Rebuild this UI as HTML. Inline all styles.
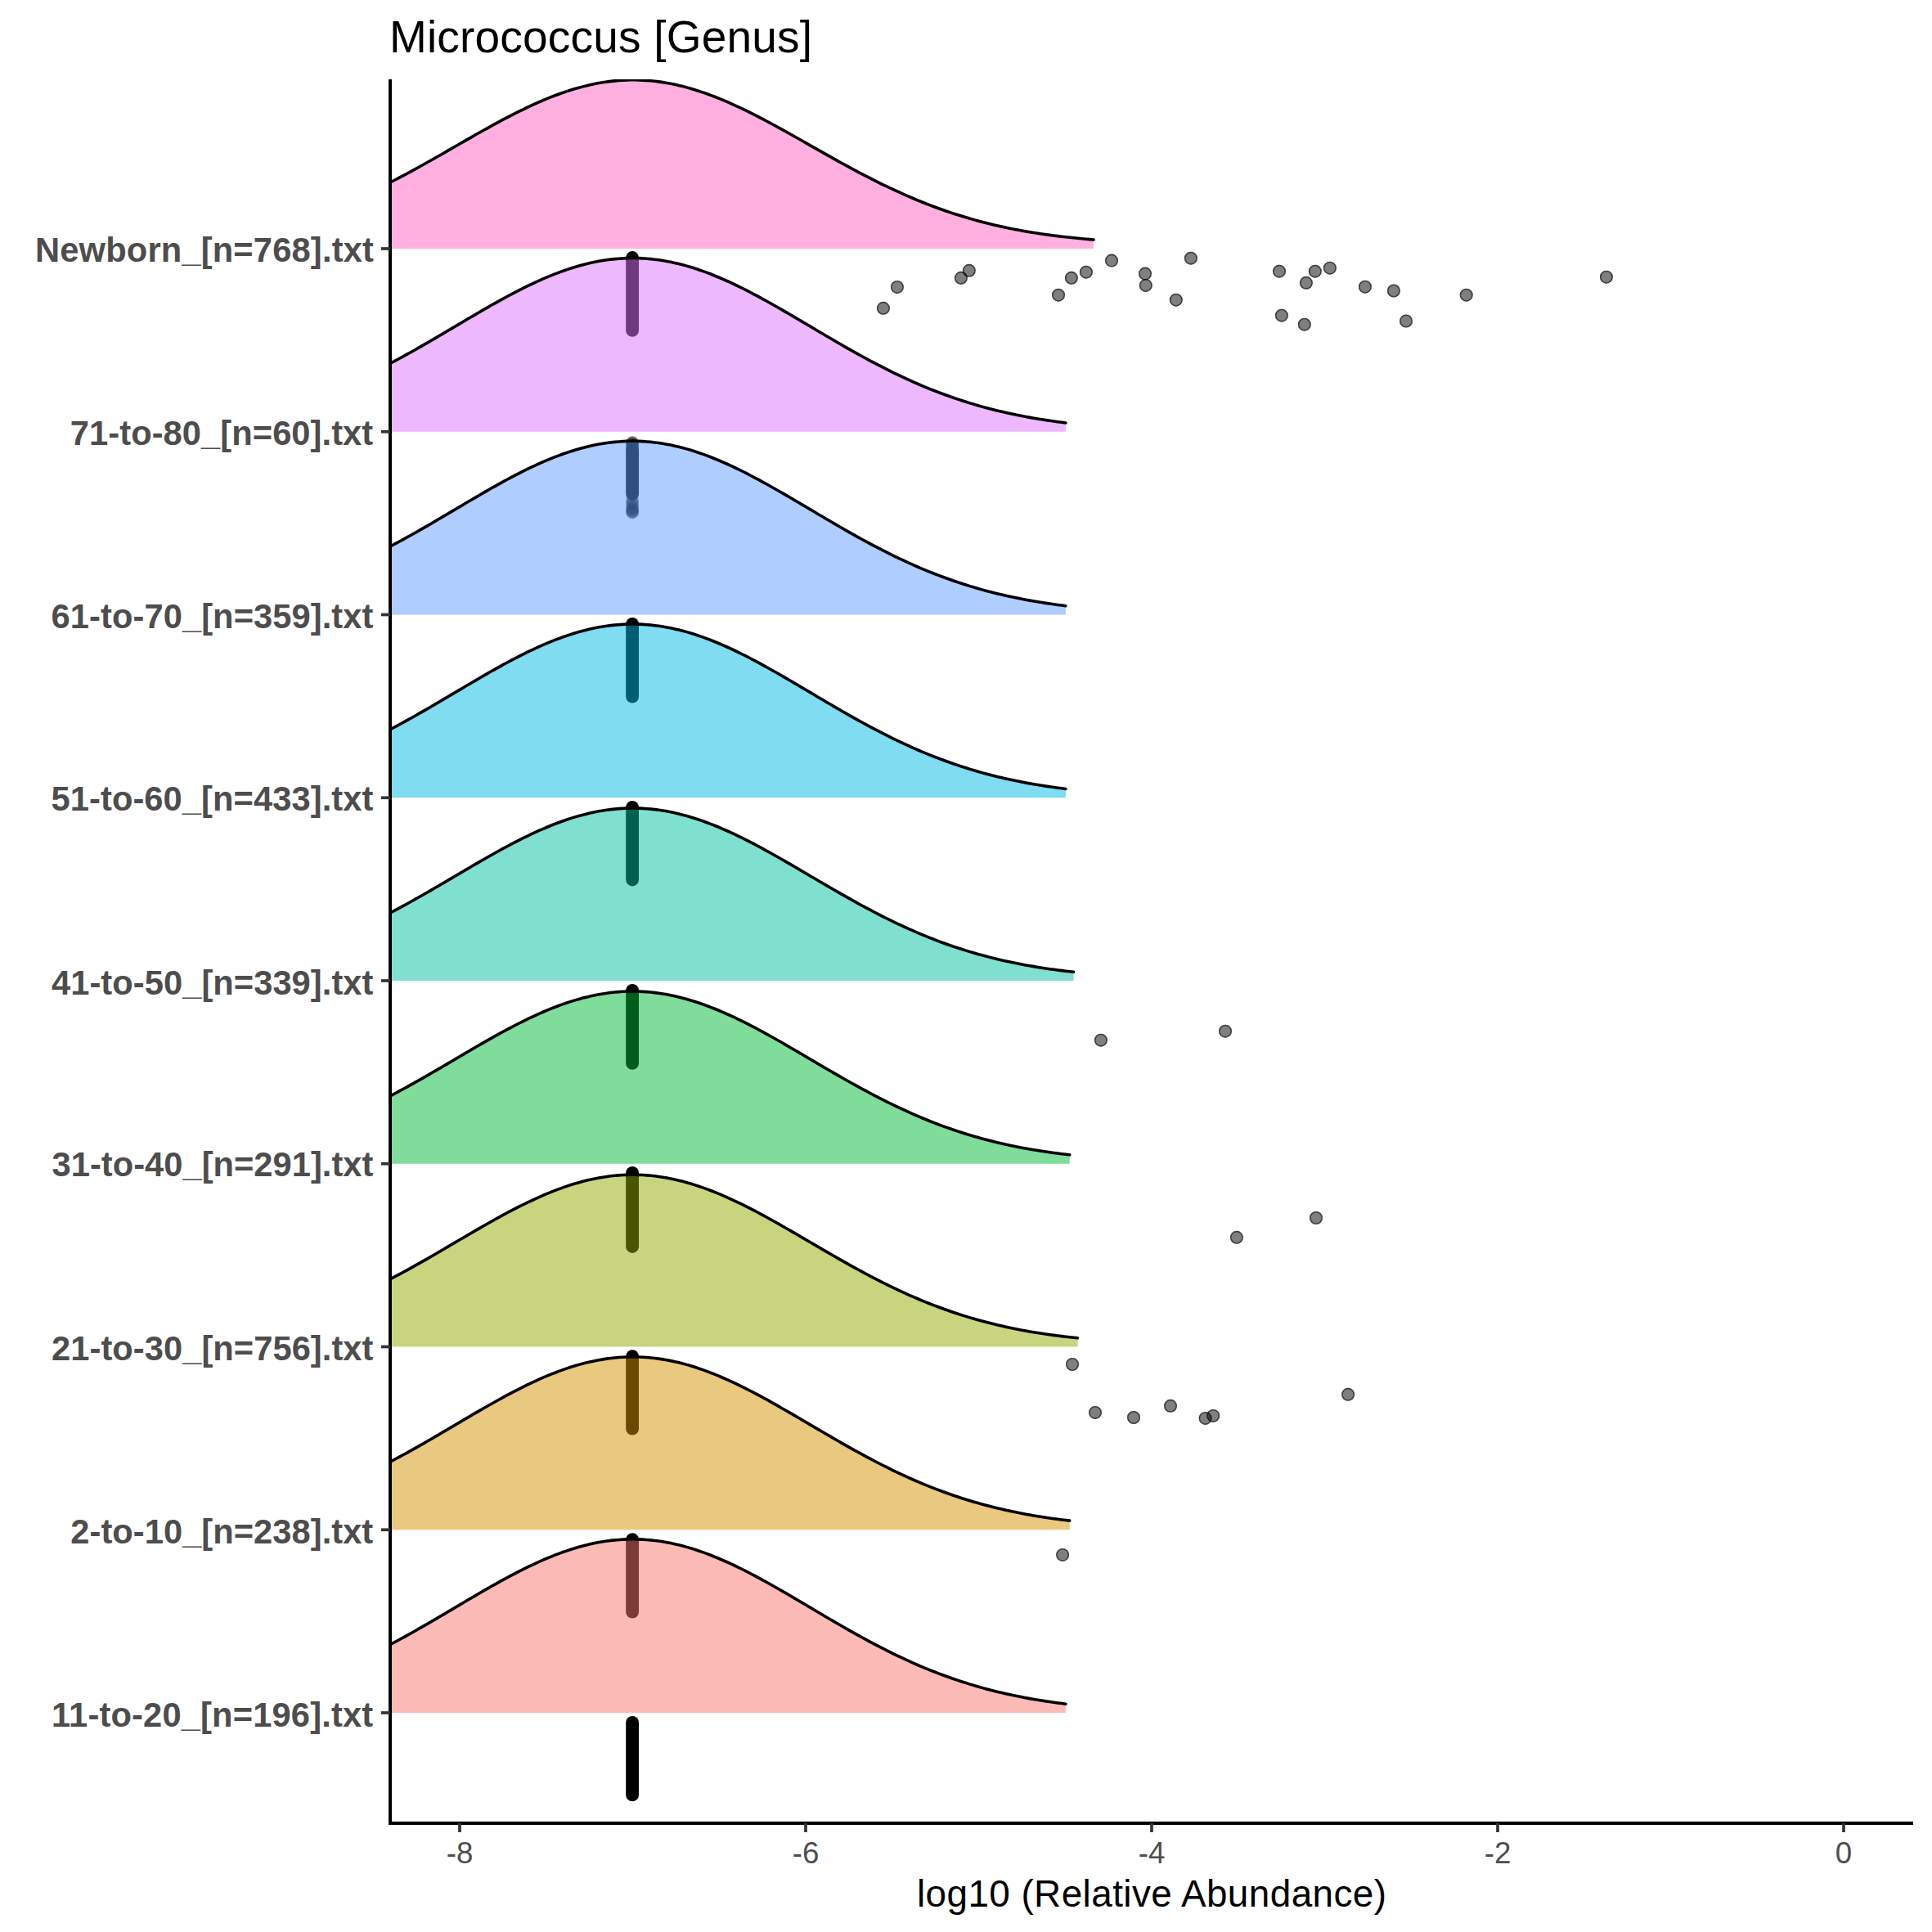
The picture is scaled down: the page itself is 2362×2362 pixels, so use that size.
<!DOCTYPE html>
<html><head><meta charset="utf-8"><title>Micrococcus [Genus]</title>
<style>html,body{margin:0;padding:0;background:#fff;}svg{display:block;}</style></head><body>
<svg width="2362" height="2362" viewBox="0 0 2362 2362">
<rect width="2362" height="2362" fill="#fff"/>
<defs><clipPath id="pc"><rect x="477" y="97" width="1862" height="2132"/></clipPath></defs>
<g clip-path="url(#pc)">
<polygon points="468.8,227.17 473.68,224.73 478.56,222.25 483.44,219.73 488.31,217.19 493.19,214.6 498.07,211.99 502.95,209.35 507.82,206.69 512.7,204 517.58,201.28 522.46,198.55 527.33,195.8 532.21,193.03 537.09,190.25 541.97,187.46 546.84,184.66 551.72,181.85 556.6,179.05 561.48,176.24 566.35,173.43 571.23,170.63 576.11,167.84 580.99,165.06 585.86,162.3 590.74,159.55 595.62,156.83 600.5,154.12 605.37,151.45 610.25,148.81 615.13,146.2 620.01,143.62 624.88,141.09 629.76,138.6 634.64,136.16 639.52,133.77 644.39,131.43 649.27,129.15 654.15,126.92 659.03,124.76 663.9,122.66 668.78,120.64 673.66,118.68 678.54,116.79 683.41,114.98 688.29,113.25 693.17,111.6 698.05,110.04 702.92,108.56 707.8,107.17 712.68,105.87 717.56,104.66 722.43,103.54 727.31,102.52 732.19,101.59 737.07,100.77 741.94,100.04 746.82,99.41 751.7,98.89 756.58,98.46 761.45,98.14 766.33,97.93 771.21,97.81 776.09,97.8 780.96,97.89 785.84,98.09 790.72,98.39 795.6,98.79 800.47,99.29 805.35,99.9 810.23,100.6 815.11,101.41 819.98,102.31 824.86,103.31 829.74,104.4 834.62,105.59 839.49,106.87 844.37,108.24 849.25,109.69 854.13,111.23 859,112.86 863.88,114.56 868.76,116.35 873.64,118.21 878.51,120.14 883.39,122.14 888.27,124.21 893.15,126.35 898.02,128.54 902.9,130.8 907.78,133.11 912.66,135.47 917.53,137.89 922.41,140.34 927.29,142.85 932.17,145.39 937.04,147.97 941.92,150.58 946.8,153.22 951.68,155.89 956.55,158.58 961.43,161.3 966.31,164.03 971.19,166.77 976.06,169.53 980.94,172.29 985.82,175.06 990.7,177.84 995.57,180.61 1000.45,183.38 1005.33,186.14 1010.2,188.9 1015.08,191.64 1019.96,194.37 1024.84,197.08 1029.71,199.78 1034.59,202.45 1039.47,205.1 1044.35,207.73 1049.22,210.33 1054.1,212.9 1058.98,215.44 1063.86,217.95 1068.73,220.42 1073.61,222.86 1078.49,225.26 1083.37,227.63 1088.24,229.95 1093.12,232.24 1098,234.48 1102.88,236.69 1107.75,238.85 1112.63,240.96 1117.51,243.03 1122.39,245.06 1127.26,247.04 1132.14,248.98 1137.02,250.87 1141.9,252.71 1146.77,254.51 1151.65,256.26 1156.53,257.97 1161.41,259.62 1166.28,261.24 1171.16,262.8 1176.04,264.32 1180.92,265.8 1185.79,267.23 1190.67,268.62 1195.55,269.96 1200.43,271.26 1205.3,272.52 1210.18,273.73 1215.06,274.9 1219.94,276.03 1224.81,277.13 1229.69,278.18 1234.57,279.19 1239.45,280.17 1244.32,281.1 1249.2,282.01 1254.08,282.87 1258.96,283.7 1263.83,284.5 1268.71,285.27 1273.59,286 1278.47,286.7 1283.34,287.38 1288.22,288.02 1293.1,288.63 1297.98,289.22 1302.85,289.78 1307.73,290.32 1312.61,290.83 1317.49,291.31 1322.36,291.78 1327.24,292.22 1332.12,292.64 1337,293.03 1337,304 468.8,304" fill="#FF61C3" fill-opacity="0.5"/>
<polyline points="468.8,227.17 473.68,224.73 478.56,222.25 483.44,219.73 488.31,217.19 493.19,214.6 498.07,211.99 502.95,209.35 507.82,206.69 512.7,204 517.58,201.28 522.46,198.55 527.33,195.8 532.21,193.03 537.09,190.25 541.97,187.46 546.84,184.66 551.72,181.85 556.6,179.05 561.48,176.24 566.35,173.43 571.23,170.63 576.11,167.84 580.99,165.06 585.86,162.3 590.74,159.55 595.62,156.83 600.5,154.12 605.37,151.45 610.25,148.81 615.13,146.2 620.01,143.62 624.88,141.09 629.76,138.6 634.64,136.16 639.52,133.77 644.39,131.43 649.27,129.15 654.15,126.92 659.03,124.76 663.9,122.66 668.78,120.64 673.66,118.68 678.54,116.79 683.41,114.98 688.29,113.25 693.17,111.6 698.05,110.04 702.92,108.56 707.8,107.17 712.68,105.87 717.56,104.66 722.43,103.54 727.31,102.52 732.19,101.59 737.07,100.77 741.94,100.04 746.82,99.41 751.7,98.89 756.58,98.46 761.45,98.14 766.33,97.93 771.21,97.81 776.09,97.8 780.96,97.89 785.84,98.09 790.72,98.39 795.6,98.79 800.47,99.29 805.35,99.9 810.23,100.6 815.11,101.41 819.98,102.31 824.86,103.31 829.74,104.4 834.62,105.59 839.49,106.87 844.37,108.24 849.25,109.69 854.13,111.23 859,112.86 863.88,114.56 868.76,116.35 873.64,118.21 878.51,120.14 883.39,122.14 888.27,124.21 893.15,126.35 898.02,128.54 902.9,130.8 907.78,133.11 912.66,135.47 917.53,137.89 922.41,140.34 927.29,142.85 932.17,145.39 937.04,147.97 941.92,150.58 946.8,153.22 951.68,155.89 956.55,158.58 961.43,161.3 966.31,164.03 971.19,166.77 976.06,169.53 980.94,172.29 985.82,175.06 990.7,177.84 995.57,180.61 1000.45,183.38 1005.33,186.14 1010.2,188.9 1015.08,191.64 1019.96,194.37 1024.84,197.08 1029.71,199.78 1034.59,202.45 1039.47,205.1 1044.35,207.73 1049.22,210.33 1054.1,212.9 1058.98,215.44 1063.86,217.95 1068.73,220.42 1073.61,222.86 1078.49,225.26 1083.37,227.63 1088.24,229.95 1093.12,232.24 1098,234.48 1102.88,236.69 1107.75,238.85 1112.63,240.96 1117.51,243.03 1122.39,245.06 1127.26,247.04 1132.14,248.98 1137.02,250.87 1141.9,252.71 1146.77,254.51 1151.65,256.26 1156.53,257.97 1161.41,259.62 1166.28,261.24 1171.16,262.8 1176.04,264.32 1180.92,265.8 1185.79,267.23 1190.67,268.62 1195.55,269.96 1200.43,271.26 1205.3,272.52 1210.18,273.73 1215.06,274.9 1219.94,276.03 1224.81,277.13 1229.69,278.18 1234.57,279.19 1239.45,280.17 1244.32,281.1 1249.2,282.01 1254.08,282.87 1258.96,283.7 1263.83,284.5 1268.71,285.27 1273.59,286 1278.47,286.7 1283.34,287.38 1288.22,288.02 1293.1,288.63 1297.98,289.22 1302.85,289.78 1307.73,290.32 1312.61,290.83 1317.49,291.31 1322.36,291.78 1327.24,292.22 1332.12,292.64 1337,293.03" fill="none" stroke="#000" stroke-width="3.6" stroke-linejoin="round" stroke-linecap="round"/>
<line x1="773.1" y1="315" x2="773.1" y2="403.9" stroke="#000" stroke-width="15.8" stroke-linecap="round"/>
<circle cx="1079.9" cy="376.8" r="8" fill="#000" fill-opacity="0.5"/><circle cx="1079.9" cy="376.8" r="7.2" fill="none" stroke="#000" stroke-opacity="0.5" stroke-width="1.6"/>
<circle cx="1096.9" cy="350.9" r="8" fill="#000" fill-opacity="0.5"/><circle cx="1096.9" cy="350.9" r="7.2" fill="none" stroke="#000" stroke-opacity="0.5" stroke-width="1.6"/>
<circle cx="1174.9" cy="339.8" r="8" fill="#000" fill-opacity="0.5"/><circle cx="1174.9" cy="339.8" r="7.2" fill="none" stroke="#000" stroke-opacity="0.5" stroke-width="1.6"/>
<circle cx="1184.8" cy="330.8" r="8" fill="#000" fill-opacity="0.5"/><circle cx="1184.8" cy="330.8" r="7.2" fill="none" stroke="#000" stroke-opacity="0.5" stroke-width="1.6"/>
<circle cx="1294" cy="360.7" r="8" fill="#000" fill-opacity="0.5"/><circle cx="1294" cy="360.7" r="7.2" fill="none" stroke="#000" stroke-opacity="0.5" stroke-width="1.6"/>
<circle cx="1309.9" cy="339.8" r="8" fill="#000" fill-opacity="0.5"/><circle cx="1309.9" cy="339.8" r="7.2" fill="none" stroke="#000" stroke-opacity="0.5" stroke-width="1.6"/>
<circle cx="1327.9" cy="332.7" r="8" fill="#000" fill-opacity="0.5"/><circle cx="1327.9" cy="332.7" r="7.2" fill="none" stroke="#000" stroke-opacity="0.5" stroke-width="1.6"/>
<circle cx="1359" cy="318.6" r="8" fill="#000" fill-opacity="0.5"/><circle cx="1359" cy="318.6" r="7.2" fill="none" stroke="#000" stroke-opacity="0.5" stroke-width="1.6"/>
<circle cx="1400" cy="334.6" r="8" fill="#000" fill-opacity="0.5"/><circle cx="1400" cy="334.6" r="7.2" fill="none" stroke="#000" stroke-opacity="0.5" stroke-width="1.6"/>
<circle cx="1400.8" cy="348.9" r="8" fill="#000" fill-opacity="0.5"/><circle cx="1400.8" cy="348.9" r="7.2" fill="none" stroke="#000" stroke-opacity="0.5" stroke-width="1.6"/>
<circle cx="1437.8" cy="366.7" r="8" fill="#000" fill-opacity="0.5"/><circle cx="1437.8" cy="366.7" r="7.2" fill="none" stroke="#000" stroke-opacity="0.5" stroke-width="1.6"/>
<circle cx="1455.9" cy="315.7" r="8" fill="#000" fill-opacity="0.5"/><circle cx="1455.9" cy="315.7" r="7.2" fill="none" stroke="#000" stroke-opacity="0.5" stroke-width="1.6"/>
<circle cx="1564" cy="331.7" r="8" fill="#000" fill-opacity="0.5"/><circle cx="1564" cy="331.7" r="7.2" fill="none" stroke="#000" stroke-opacity="0.5" stroke-width="1.6"/>
<circle cx="1566.9" cy="385.7" r="8" fill="#000" fill-opacity="0.5"/><circle cx="1566.9" cy="385.7" r="7.2" fill="none" stroke="#000" stroke-opacity="0.5" stroke-width="1.6"/>
<circle cx="1596.9" cy="345.8" r="8" fill="#000" fill-opacity="0.5"/><circle cx="1596.9" cy="345.8" r="7.2" fill="none" stroke="#000" stroke-opacity="0.5" stroke-width="1.6"/>
<circle cx="1594.8" cy="396.7" r="8" fill="#000" fill-opacity="0.5"/><circle cx="1594.8" cy="396.7" r="7.2" fill="none" stroke="#000" stroke-opacity="0.5" stroke-width="1.6"/>
<circle cx="1607.8" cy="331.7" r="8" fill="#000" fill-opacity="0.5"/><circle cx="1607.8" cy="331.7" r="7.2" fill="none" stroke="#000" stroke-opacity="0.5" stroke-width="1.6"/>
<circle cx="1625.9" cy="327.7" r="8" fill="#000" fill-opacity="0.5"/><circle cx="1625.9" cy="327.7" r="7.2" fill="none" stroke="#000" stroke-opacity="0.5" stroke-width="1.6"/>
<circle cx="1668.9" cy="350.7" r="8" fill="#000" fill-opacity="0.5"/><circle cx="1668.9" cy="350.7" r="7.2" fill="none" stroke="#000" stroke-opacity="0.5" stroke-width="1.6"/>
<circle cx="1703.9" cy="355.5" r="8" fill="#000" fill-opacity="0.5"/><circle cx="1703.9" cy="355.5" r="7.2" fill="none" stroke="#000" stroke-opacity="0.5" stroke-width="1.6"/>
<circle cx="1719" cy="392.5" r="8" fill="#000" fill-opacity="0.5"/><circle cx="1719" cy="392.5" r="7.2" fill="none" stroke="#000" stroke-opacity="0.5" stroke-width="1.6"/>
<circle cx="1792.7" cy="360.7" r="8" fill="#000" fill-opacity="0.5"/><circle cx="1792.7" cy="360.7" r="7.2" fill="none" stroke="#000" stroke-opacity="0.5" stroke-width="1.6"/>
<circle cx="1963.9" cy="338.7" r="8" fill="#000" fill-opacity="0.5"/><circle cx="1963.9" cy="338.7" r="7.2" fill="none" stroke="#000" stroke-opacity="0.5" stroke-width="1.6"/>
<polygon points="468.8,448.56 473.68,446.05 478.56,443.49 483.44,440.9 488.31,438.27 493.19,435.61 498.07,432.92 502.95,430.2 507.82,427.46 512.7,424.68 517.58,421.89 522.46,419.07 527.33,416.24 532.21,413.39 537.09,410.52 541.97,407.65 546.84,404.76 551.72,401.87 556.6,398.98 561.48,396.09 566.35,393.2 571.23,390.31 576.11,387.44 580.99,384.58 585.86,381.73 590.74,378.9 595.62,376.1 600.5,373.31 605.37,370.56 610.25,367.84 615.13,365.15 620.01,362.51 624.88,359.9 629.76,357.34 634.64,354.83 639.52,352.37 644.39,349.96 649.27,347.61 654.15,345.33 659.03,343.1 663.9,340.95 668.78,338.86 673.66,336.85 678.54,334.92 683.41,333.06 688.29,331.28 693.17,329.59 698.05,327.99 702.92,326.47 707.8,325.04 712.68,323.71 717.56,322.47 722.43,321.33 727.31,320.29 732.19,319.35 737.07,318.51 741.94,317.77 746.82,317.14 751.7,316.61 756.58,316.18 761.45,315.86 766.33,315.65 771.21,315.55 776.09,315.55 780.96,315.66 785.84,315.88 790.72,316.21 795.6,316.64 800.47,317.17 805.35,317.81 810.23,318.56 815.11,319.4 819.98,320.35 824.86,321.4 829.74,322.55 834.62,323.79 839.49,325.13 844.37,326.56 849.25,328.08 854.13,329.69 859,331.39 863.88,333.17 868.76,335.03 873.64,336.97 878.51,338.99 883.39,341.08 888.27,343.24 893.15,345.46 898.02,347.75 902.9,350.1 907.78,352.51 912.66,354.98 917.53,357.49 922.41,360.06 927.29,362.67 932.17,365.32 937.04,368 941.92,370.73 946.8,373.48 951.68,376.26 956.55,379.07 961.43,381.9 966.31,384.75 971.19,387.61 976.06,390.49 980.94,393.37 985.82,396.26 990.7,399.15 995.57,402.05 1000.45,404.94 1005.33,407.82 1010.2,410.69 1015.08,413.56 1019.96,416.41 1024.84,419.24 1029.71,422.06 1034.59,424.85 1039.47,427.62 1044.35,430.37 1049.22,433.09 1054.1,435.77 1058.98,438.43 1063.86,441.06 1068.73,443.65 1073.61,446.2 1078.49,448.72 1083.37,451.19 1088.24,453.63 1093.12,456.03 1098,458.38 1102.88,460.69 1107.75,462.95 1112.63,465.17 1117.51,467.35 1122.39,469.48 1127.26,471.56 1132.14,473.6 1137.02,475.58 1141.9,477.53 1146.77,479.42 1151.65,481.26 1156.53,483.06 1161.41,484.81 1166.28,486.51 1171.16,488.16 1176.04,489.77 1180.92,491.33 1185.79,492.85 1190.67,494.31 1195.55,495.74 1200.43,497.11 1205.3,498.45 1210.18,499.73 1215.06,500.98 1219.94,502.18 1224.81,503.34 1229.69,504.47 1234.57,505.55 1239.45,506.59 1244.32,507.59 1249.2,508.55 1254.08,509.48 1258.96,510.37 1263.83,511.23 1268.71,512.05 1273.59,512.84 1278.47,513.6 1283.34,514.32 1288.22,515.01 1293.1,515.68 1297.98,516.31 1302.85,516.92 1302.85,527.75 468.8,527.75" fill="#DB72FB" fill-opacity="0.5"/>
<polyline points="468.8,448.56 473.68,446.05 478.56,443.49 483.44,440.9 488.31,438.27 493.19,435.61 498.07,432.92 502.95,430.2 507.82,427.46 512.7,424.68 517.58,421.89 522.46,419.07 527.33,416.24 532.21,413.39 537.09,410.52 541.97,407.65 546.84,404.76 551.72,401.87 556.6,398.98 561.48,396.09 566.35,393.2 571.23,390.31 576.11,387.44 580.99,384.58 585.86,381.73 590.74,378.9 595.62,376.1 600.5,373.31 605.37,370.56 610.25,367.84 615.13,365.15 620.01,362.51 624.88,359.9 629.76,357.34 634.64,354.83 639.52,352.37 644.39,349.96 649.27,347.61 654.15,345.33 659.03,343.1 663.9,340.95 668.78,338.86 673.66,336.85 678.54,334.92 683.41,333.06 688.29,331.28 693.17,329.59 698.05,327.99 702.92,326.47 707.8,325.04 712.68,323.71 717.56,322.47 722.43,321.33 727.31,320.29 732.19,319.35 737.07,318.51 741.94,317.77 746.82,317.14 751.7,316.61 756.58,316.18 761.45,315.86 766.33,315.65 771.21,315.55 776.09,315.55 780.96,315.66 785.84,315.88 790.72,316.21 795.6,316.64 800.47,317.17 805.35,317.81 810.23,318.56 815.11,319.4 819.98,320.35 824.86,321.4 829.74,322.55 834.62,323.79 839.49,325.13 844.37,326.56 849.25,328.08 854.13,329.69 859,331.39 863.88,333.17 868.76,335.03 873.64,336.97 878.51,338.99 883.39,341.08 888.27,343.24 893.15,345.46 898.02,347.75 902.9,350.1 907.78,352.51 912.66,354.98 917.53,357.49 922.41,360.06 927.29,362.67 932.17,365.32 937.04,368 941.92,370.73 946.8,373.48 951.68,376.26 956.55,379.07 961.43,381.9 966.31,384.75 971.19,387.61 976.06,390.49 980.94,393.37 985.82,396.26 990.7,399.15 995.57,402.05 1000.45,404.94 1005.33,407.82 1010.2,410.69 1015.08,413.56 1019.96,416.41 1024.84,419.24 1029.71,422.06 1034.59,424.85 1039.47,427.62 1044.35,430.37 1049.22,433.09 1054.1,435.77 1058.98,438.43 1063.86,441.06 1068.73,443.65 1073.61,446.2 1078.49,448.72 1083.37,451.19 1088.24,453.63 1093.12,456.03 1098,458.38 1102.88,460.69 1107.75,462.95 1112.63,465.17 1117.51,467.35 1122.39,469.48 1127.26,471.56 1132.14,473.6 1137.02,475.58 1141.9,477.53 1146.77,479.42 1151.65,481.26 1156.53,483.06 1161.41,484.81 1166.28,486.51 1171.16,488.16 1176.04,489.77 1180.92,491.33 1185.79,492.85 1190.67,494.31 1195.55,495.74 1200.43,497.11 1205.3,498.45 1210.18,499.73 1215.06,500.98 1219.94,502.18 1224.81,503.34 1229.69,504.47 1234.57,505.55 1239.45,506.59 1244.32,507.59 1249.2,508.55 1254.08,509.48 1258.96,510.37 1263.83,511.23 1268.71,512.05 1273.59,512.84 1278.47,513.6 1283.34,514.32 1288.22,515.01 1293.1,515.68 1297.98,516.31 1302.85,516.92" fill="none" stroke="#000" stroke-width="3.6" stroke-linejoin="round" stroke-linecap="round"/>
<line x1="773.1" y1="551" x2="773.1" y2="604" stroke="#000" stroke-width="15.8" stroke-linecap="round"/>
<circle cx="773.1" cy="541.1" r="7.9" fill="#000" fill-opacity="0.5"/>
<circle cx="773.1" cy="543" r="7.9" fill="#000" fill-opacity="0.5"/>
<circle cx="773.1" cy="545" r="7.9" fill="#000" fill-opacity="0.5"/>
<circle cx="773.1" cy="547" r="7.9" fill="#000" fill-opacity="0.5"/>
<circle cx="773.1" cy="549" r="7.9" fill="#000" fill-opacity="0.5"/>
<circle cx="773.1" cy="612" r="7.9" fill="#000" fill-opacity="0.5"/>
<circle cx="773.1" cy="616" r="7.9" fill="#000" fill-opacity="0.5"/>
<circle cx="773.1" cy="620" r="7.9" fill="#000" fill-opacity="0.5"/>
<circle cx="773.1" cy="623" r="7.9" fill="#000" fill-opacity="0.5"/>
<circle cx="773.1" cy="625" r="7.9" fill="#000" fill-opacity="0.5"/>
<circle cx="773.1" cy="626.5" r="7.9" fill="#000" fill-opacity="0.5"/>
<polygon points="468.8,672.31 473.68,669.8 478.56,667.24 483.44,664.65 488.31,662.02 493.19,659.36 498.07,656.67 502.95,653.95 507.82,651.21 512.7,648.43 517.58,645.64 522.46,642.82 527.33,639.99 532.21,637.14 537.09,634.27 541.97,631.4 546.84,628.51 551.72,625.62 556.6,622.73 561.48,619.84 566.35,616.95 571.23,614.06 576.11,611.19 580.99,608.33 585.86,605.48 590.74,602.65 595.62,599.85 600.5,597.06 605.37,594.31 610.25,591.59 615.13,588.9 620.01,586.26 624.88,583.65 629.76,581.09 634.64,578.58 639.52,576.12 644.39,573.71 649.27,571.36 654.15,569.08 659.03,566.85 663.9,564.7 668.78,562.61 673.66,560.6 678.54,558.67 683.41,556.81 688.29,555.03 693.17,553.34 698.05,551.74 702.92,550.22 707.8,548.79 712.68,547.46 717.56,546.22 722.43,545.08 727.31,544.04 732.19,543.1 737.07,542.26 741.94,541.52 746.82,540.89 751.7,540.36 756.58,539.93 761.45,539.61 766.33,539.4 771.21,539.3 776.09,539.3 780.96,539.41 785.84,539.63 790.72,539.96 795.6,540.39 800.47,540.92 805.35,541.56 810.23,542.31 815.11,543.15 819.98,544.1 824.86,545.15 829.74,546.3 834.62,547.54 839.49,548.88 844.37,550.31 849.25,551.83 854.13,553.44 859,555.14 863.88,556.92 868.76,558.78 873.64,560.72 878.51,562.74 883.39,564.83 888.27,566.99 893.15,569.21 898.02,571.5 902.9,573.85 907.78,576.26 912.66,578.73 917.53,581.24 922.41,583.81 927.29,586.42 932.17,589.07 937.04,591.75 941.92,594.48 946.8,597.23 951.68,600.01 956.55,602.82 961.43,605.65 966.31,608.5 971.19,611.36 976.06,614.24 980.94,617.12 985.82,620.01 990.7,622.9 995.57,625.8 1000.45,628.69 1005.33,631.57 1010.2,634.44 1015.08,637.31 1019.96,640.16 1024.84,642.99 1029.71,645.81 1034.59,648.6 1039.47,651.37 1044.35,654.12 1049.22,656.84 1054.1,659.52 1058.98,662.18 1063.86,664.81 1068.73,667.4 1073.61,669.95 1078.49,672.47 1083.37,674.94 1088.24,677.38 1093.12,679.78 1098,682.13 1102.88,684.44 1107.75,686.7 1112.63,688.92 1117.51,691.1 1122.39,693.23 1127.26,695.31 1132.14,697.35 1137.02,699.33 1141.9,701.28 1146.77,703.17 1151.65,705.01 1156.53,706.81 1161.41,708.56 1166.28,710.26 1171.16,711.91 1176.04,713.52 1180.92,715.08 1185.79,716.6 1190.67,718.06 1195.55,719.49 1200.43,720.86 1205.3,722.2 1210.18,723.48 1215.06,724.73 1219.94,725.93 1224.81,727.09 1229.69,728.22 1234.57,729.3 1239.45,730.34 1244.32,731.34 1249.2,732.3 1254.08,733.23 1258.96,734.12 1263.83,734.98 1268.71,735.8 1273.59,736.59 1278.47,737.35 1283.34,738.07 1288.22,738.76 1293.1,739.43 1297.98,740.06 1302.85,740.67 1302.85,751.5 468.8,751.5" fill="#619CFF" fill-opacity="0.5"/>
<polyline points="468.8,672.31 473.68,669.8 478.56,667.24 483.44,664.65 488.31,662.02 493.19,659.36 498.07,656.67 502.95,653.95 507.82,651.21 512.7,648.43 517.58,645.64 522.46,642.82 527.33,639.99 532.21,637.14 537.09,634.27 541.97,631.4 546.84,628.51 551.72,625.62 556.6,622.73 561.48,619.84 566.35,616.95 571.23,614.06 576.11,611.19 580.99,608.33 585.86,605.48 590.74,602.65 595.62,599.85 600.5,597.06 605.37,594.31 610.25,591.59 615.13,588.9 620.01,586.26 624.88,583.65 629.76,581.09 634.64,578.58 639.52,576.12 644.39,573.71 649.27,571.36 654.15,569.08 659.03,566.85 663.9,564.7 668.78,562.61 673.66,560.6 678.54,558.67 683.41,556.81 688.29,555.03 693.17,553.34 698.05,551.74 702.92,550.22 707.8,548.79 712.68,547.46 717.56,546.22 722.43,545.08 727.31,544.04 732.19,543.1 737.07,542.26 741.94,541.52 746.82,540.89 751.7,540.36 756.58,539.93 761.45,539.61 766.33,539.4 771.21,539.3 776.09,539.3 780.96,539.41 785.84,539.63 790.72,539.96 795.6,540.39 800.47,540.92 805.35,541.56 810.23,542.31 815.11,543.15 819.98,544.1 824.86,545.15 829.74,546.3 834.62,547.54 839.49,548.88 844.37,550.31 849.25,551.83 854.13,553.44 859,555.14 863.88,556.92 868.76,558.78 873.64,560.72 878.51,562.74 883.39,564.83 888.27,566.99 893.15,569.21 898.02,571.5 902.9,573.85 907.78,576.26 912.66,578.73 917.53,581.24 922.41,583.81 927.29,586.42 932.17,589.07 937.04,591.75 941.92,594.48 946.8,597.23 951.68,600.01 956.55,602.82 961.43,605.65 966.31,608.5 971.19,611.36 976.06,614.24 980.94,617.12 985.82,620.01 990.7,622.9 995.57,625.8 1000.45,628.69 1005.33,631.57 1010.2,634.44 1015.08,637.31 1019.96,640.16 1024.84,642.99 1029.71,645.81 1034.59,648.6 1039.47,651.37 1044.35,654.12 1049.22,656.84 1054.1,659.52 1058.98,662.18 1063.86,664.81 1068.73,667.4 1073.61,669.95 1078.49,672.47 1083.37,674.94 1088.24,677.38 1093.12,679.78 1098,682.13 1102.88,684.44 1107.75,686.7 1112.63,688.92 1117.51,691.1 1122.39,693.23 1127.26,695.31 1132.14,697.35 1137.02,699.33 1141.9,701.28 1146.77,703.17 1151.65,705.01 1156.53,706.81 1161.41,708.56 1166.28,710.26 1171.16,711.91 1176.04,713.52 1180.92,715.08 1185.79,716.6 1190.67,718.06 1195.55,719.49 1200.43,720.86 1205.3,722.2 1210.18,723.48 1215.06,724.73 1219.94,725.93 1224.81,727.09 1229.69,728.22 1234.57,729.3 1239.45,730.34 1244.32,731.34 1249.2,732.3 1254.08,733.23 1258.96,734.12 1263.83,734.98 1268.71,735.8 1273.59,736.59 1278.47,737.35 1283.34,738.07 1288.22,738.76 1293.1,739.43 1297.98,740.06 1302.85,740.67" fill="none" stroke="#000" stroke-width="3.6" stroke-linejoin="round" stroke-linecap="round"/>
<line x1="773.1" y1="762.8" x2="773.1" y2="851.7" stroke="#000" stroke-width="15.8" stroke-linecap="round"/>
<polygon points="468.8,896.06 473.68,893.55 478.56,890.99 483.44,888.4 488.31,885.77 493.19,883.11 498.07,880.42 502.95,877.7 507.82,874.96 512.7,872.18 517.58,869.39 522.46,866.57 527.33,863.74 532.21,860.89 537.09,858.02 541.97,855.15 546.84,852.26 551.72,849.37 556.6,846.48 561.48,843.59 566.35,840.7 571.23,837.81 576.11,834.94 580.99,832.08 585.86,829.23 590.74,826.4 595.62,823.6 600.5,820.81 605.37,818.06 610.25,815.34 615.13,812.65 620.01,810.01 624.88,807.4 629.76,804.84 634.64,802.33 639.52,799.87 644.39,797.46 649.27,795.11 654.15,792.83 659.03,790.6 663.9,788.45 668.78,786.36 673.66,784.35 678.54,782.42 683.41,780.56 688.29,778.78 693.17,777.09 698.05,775.49 702.92,773.97 707.8,772.54 712.68,771.21 717.56,769.97 722.43,768.83 727.31,767.79 732.19,766.85 737.07,766.01 741.94,765.27 746.82,764.64 751.7,764.11 756.58,763.68 761.45,763.36 766.33,763.15 771.21,763.05 776.09,763.05 780.96,763.16 785.84,763.38 790.72,763.71 795.6,764.14 800.47,764.67 805.35,765.31 810.23,766.06 815.11,766.9 819.98,767.85 824.86,768.9 829.74,770.05 834.62,771.29 839.49,772.63 844.37,774.06 849.25,775.58 854.13,777.19 859,778.89 863.88,780.67 868.76,782.53 873.64,784.47 878.51,786.49 883.39,788.58 888.27,790.74 893.15,792.96 898.02,795.25 902.9,797.6 907.78,800.01 912.66,802.48 917.53,804.99 922.41,807.56 927.29,810.17 932.17,812.82 937.04,815.5 941.92,818.23 946.8,820.98 951.68,823.76 956.55,826.57 961.43,829.4 966.31,832.25 971.19,835.11 976.06,837.99 980.94,840.87 985.82,843.76 990.7,846.65 995.57,849.55 1000.45,852.44 1005.33,855.32 1010.2,858.19 1015.08,861.06 1019.96,863.91 1024.84,866.74 1029.71,869.56 1034.59,872.35 1039.47,875.12 1044.35,877.87 1049.22,880.59 1054.1,883.27 1058.98,885.93 1063.86,888.56 1068.73,891.15 1073.61,893.7 1078.49,896.22 1083.37,898.69 1088.24,901.13 1093.12,903.53 1098,905.88 1102.88,908.19 1107.75,910.45 1112.63,912.67 1117.51,914.85 1122.39,916.98 1127.26,919.06 1132.14,921.1 1137.02,923.08 1141.9,925.03 1146.77,926.92 1151.65,928.76 1156.53,930.56 1161.41,932.31 1166.28,934.01 1171.16,935.66 1176.04,937.27 1180.92,938.83 1185.79,940.35 1190.67,941.81 1195.55,943.24 1200.43,944.61 1205.3,945.95 1210.18,947.23 1215.06,948.48 1219.94,949.68 1224.81,950.84 1229.69,951.97 1234.57,953.05 1239.45,954.09 1244.32,955.09 1249.2,956.05 1254.08,956.98 1258.96,957.87 1263.83,958.73 1268.71,959.55 1273.59,960.34 1278.47,961.1 1283.34,961.82 1288.22,962.51 1293.1,963.18 1297.98,963.81 1302.85,964.42 1302.85,975.25 468.8,975.25" fill="#00B9E3" fill-opacity="0.5"/>
<polyline points="468.8,896.06 473.68,893.55 478.56,890.99 483.44,888.4 488.31,885.77 493.19,883.11 498.07,880.42 502.95,877.7 507.82,874.96 512.7,872.18 517.58,869.39 522.46,866.57 527.33,863.74 532.21,860.89 537.09,858.02 541.97,855.15 546.84,852.26 551.72,849.37 556.6,846.48 561.48,843.59 566.35,840.7 571.23,837.81 576.11,834.94 580.99,832.08 585.86,829.23 590.74,826.4 595.62,823.6 600.5,820.81 605.37,818.06 610.25,815.34 615.13,812.65 620.01,810.01 624.88,807.4 629.76,804.84 634.64,802.33 639.52,799.87 644.39,797.46 649.27,795.11 654.15,792.83 659.03,790.6 663.9,788.45 668.78,786.36 673.66,784.35 678.54,782.42 683.41,780.56 688.29,778.78 693.17,777.09 698.05,775.49 702.92,773.97 707.8,772.54 712.68,771.21 717.56,769.97 722.43,768.83 727.31,767.79 732.19,766.85 737.07,766.01 741.94,765.27 746.82,764.64 751.7,764.11 756.58,763.68 761.45,763.36 766.33,763.15 771.21,763.05 776.09,763.05 780.96,763.16 785.84,763.38 790.72,763.71 795.6,764.14 800.47,764.67 805.35,765.31 810.23,766.06 815.11,766.9 819.98,767.85 824.86,768.9 829.74,770.05 834.62,771.29 839.49,772.63 844.37,774.06 849.25,775.58 854.13,777.19 859,778.89 863.88,780.67 868.76,782.53 873.64,784.47 878.51,786.49 883.39,788.58 888.27,790.74 893.15,792.96 898.02,795.25 902.9,797.6 907.78,800.01 912.66,802.48 917.53,804.99 922.41,807.56 927.29,810.17 932.17,812.82 937.04,815.5 941.92,818.23 946.8,820.98 951.68,823.76 956.55,826.57 961.43,829.4 966.31,832.25 971.19,835.11 976.06,837.99 980.94,840.87 985.82,843.76 990.7,846.65 995.57,849.55 1000.45,852.44 1005.33,855.32 1010.2,858.19 1015.08,861.06 1019.96,863.91 1024.84,866.74 1029.71,869.56 1034.59,872.35 1039.47,875.12 1044.35,877.87 1049.22,880.59 1054.1,883.27 1058.98,885.93 1063.86,888.56 1068.73,891.15 1073.61,893.7 1078.49,896.22 1083.37,898.69 1088.24,901.13 1093.12,903.53 1098,905.88 1102.88,908.19 1107.75,910.45 1112.63,912.67 1117.51,914.85 1122.39,916.98 1127.26,919.06 1132.14,921.1 1137.02,923.08 1141.9,925.03 1146.77,926.92 1151.65,928.76 1156.53,930.56 1161.41,932.31 1166.28,934.01 1171.16,935.66 1176.04,937.27 1180.92,938.83 1185.79,940.35 1190.67,941.81 1195.55,943.24 1200.43,944.61 1205.3,945.95 1210.18,947.23 1215.06,948.48 1219.94,949.68 1224.81,950.84 1229.69,951.97 1234.57,953.05 1239.45,954.09 1244.32,955.09 1249.2,956.05 1254.08,956.98 1258.96,957.87 1263.83,958.73 1268.71,959.55 1273.59,960.34 1278.47,961.1 1283.34,961.82 1288.22,962.51 1293.1,963.18 1297.98,963.81 1302.85,964.42" fill="none" stroke="#000" stroke-width="3.6" stroke-linejoin="round" stroke-linecap="round"/>
<line x1="773.1" y1="986.8" x2="773.1" y2="1075.5" stroke="#000" stroke-width="15.8" stroke-linecap="round"/>
<polygon points="468.8,1120.28 473.68,1117.78 478.56,1115.24 483.44,1112.66 488.31,1110.05 493.19,1107.41 498.07,1104.73 502.95,1102.03 507.82,1099.3 512.7,1096.54 517.58,1093.76 522.46,1090.96 527.33,1088.14 532.21,1085.31 537.09,1082.46 541.97,1079.6 546.84,1076.74 551.72,1073.86 556.6,1070.99 561.48,1068.11 566.35,1065.24 571.23,1062.37 576.11,1059.52 580.99,1056.67 585.86,1053.84 590.74,1051.03 595.62,1048.24 600.5,1045.47 605.37,1042.74 610.25,1040.03 615.13,1037.36 620.01,1034.73 624.88,1032.14 629.76,1029.59 634.64,1027.1 639.52,1024.65 644.39,1022.26 649.27,1019.92 654.15,1017.65 659.03,1015.44 663.9,1013.3 668.78,1011.22 673.66,1009.22 678.54,1007.3 683.41,1005.45 688.29,1003.69 693.17,1002 698.05,1000.41 702.92,998.9 707.8,997.48 712.68,996.16 717.56,994.93 722.43,993.79 727.31,992.75 732.19,991.82 737.07,990.98 741.94,990.24 746.82,989.61 751.7,989.09 756.58,988.66 761.45,988.35 766.33,988.14 771.21,988.03 776.09,988.03 780.96,988.14 785.84,988.36 790.72,988.68 795.6,989.1 800.47,989.63 805.35,990.27 810.23,991.01 815.11,991.85 819.98,992.79 824.86,993.83 829.74,994.96 834.62,996.2 839.49,997.53 844.37,998.95 849.25,1000.46 854.13,1002.05 859,1003.74 863.88,1005.51 868.76,1007.35 873.64,1009.28 878.51,1011.28 883.39,1013.35 888.27,1015.49 893.15,1017.7 898.02,1019.98 902.9,1022.31 907.78,1024.7 912.66,1027.15 917.53,1029.64 922.41,1032.19 927.29,1034.77 932.17,1037.4 937.04,1040.07 941.92,1042.77 946.8,1045.5 951.68,1048.26 956.55,1051.05 961.43,1053.85 966.31,1056.68 971.19,1059.51 976.06,1062.37 980.94,1065.22 985.82,1068.09 990.7,1070.96 995.57,1073.82 1000.45,1076.69 1005.33,1079.55 1010.2,1082.4 1015.08,1085.23 1019.96,1088.06 1024.84,1090.86 1029.71,1093.65 1034.59,1096.42 1039.47,1099.16 1044.35,1101.88 1049.22,1104.57 1054.1,1107.24 1058.98,1109.87 1063.86,1112.46 1068.73,1115.03 1073.61,1117.55 1078.49,1120.04 1083.37,1122.49 1088.24,1124.9 1093.12,1127.27 1098,1129.6 1102.88,1131.88 1107.75,1134.12 1112.63,1136.31 1117.51,1138.46 1122.39,1140.56 1127.26,1142.62 1132.14,1144.63 1137.02,1146.59 1141.9,1148.51 1146.77,1150.37 1151.65,1152.19 1156.53,1153.96 1161.41,1155.69 1166.28,1157.36 1171.16,1158.99 1176.04,1160.58 1180.92,1162.11 1185.79,1163.6 1190.67,1165.05 1195.55,1166.44 1200.43,1167.8 1205.3,1169.11 1210.18,1170.37 1215.06,1171.6 1219.94,1172.78 1224.81,1173.92 1229.69,1175.02 1234.57,1176.08 1239.45,1177.1 1244.32,1178.08 1249.2,1179.03 1254.08,1179.93 1258.96,1180.81 1263.83,1181.64 1268.71,1182.45 1273.59,1183.22 1278.47,1183.96 1283.34,1184.67 1288.22,1185.34 1293.1,1185.99 1297.98,1186.61 1302.85,1187.2 1307.73,1187.77 1312.61,1188.31 1312.61,1199 468.8,1199" fill="#00C19F" fill-opacity="0.5"/>
<polyline points="468.8,1120.28 473.68,1117.78 478.56,1115.24 483.44,1112.66 488.31,1110.05 493.19,1107.41 498.07,1104.73 502.95,1102.03 507.82,1099.3 512.7,1096.54 517.58,1093.76 522.46,1090.96 527.33,1088.14 532.21,1085.31 537.09,1082.46 541.97,1079.6 546.84,1076.74 551.72,1073.86 556.6,1070.99 561.48,1068.11 566.35,1065.24 571.23,1062.37 576.11,1059.52 580.99,1056.67 585.86,1053.84 590.74,1051.03 595.62,1048.24 600.5,1045.47 605.37,1042.74 610.25,1040.03 615.13,1037.36 620.01,1034.73 624.88,1032.14 629.76,1029.59 634.64,1027.1 639.52,1024.65 644.39,1022.26 649.27,1019.92 654.15,1017.65 659.03,1015.44 663.9,1013.3 668.78,1011.22 673.66,1009.22 678.54,1007.3 683.41,1005.45 688.29,1003.69 693.17,1002 698.05,1000.41 702.92,998.9 707.8,997.48 712.68,996.16 717.56,994.93 722.43,993.79 727.31,992.75 732.19,991.82 737.07,990.98 741.94,990.24 746.82,989.61 751.7,989.09 756.58,988.66 761.45,988.35 766.33,988.14 771.21,988.03 776.09,988.03 780.96,988.14 785.84,988.36 790.72,988.68 795.6,989.1 800.47,989.63 805.35,990.27 810.23,991.01 815.11,991.85 819.98,992.79 824.86,993.83 829.74,994.96 834.62,996.2 839.49,997.53 844.37,998.95 849.25,1000.46 854.13,1002.05 859,1003.74 863.88,1005.51 868.76,1007.35 873.64,1009.28 878.51,1011.28 883.39,1013.35 888.27,1015.49 893.15,1017.7 898.02,1019.98 902.9,1022.31 907.78,1024.7 912.66,1027.15 917.53,1029.64 922.41,1032.19 927.29,1034.77 932.17,1037.4 937.04,1040.07 941.92,1042.77 946.8,1045.5 951.68,1048.26 956.55,1051.05 961.43,1053.85 966.31,1056.68 971.19,1059.51 976.06,1062.37 980.94,1065.22 985.82,1068.09 990.7,1070.96 995.57,1073.82 1000.45,1076.69 1005.33,1079.55 1010.2,1082.4 1015.08,1085.23 1019.96,1088.06 1024.84,1090.86 1029.71,1093.65 1034.59,1096.42 1039.47,1099.16 1044.35,1101.88 1049.22,1104.57 1054.1,1107.24 1058.98,1109.87 1063.86,1112.46 1068.73,1115.03 1073.61,1117.55 1078.49,1120.04 1083.37,1122.49 1088.24,1124.9 1093.12,1127.27 1098,1129.6 1102.88,1131.88 1107.75,1134.12 1112.63,1136.31 1117.51,1138.46 1122.39,1140.56 1127.26,1142.62 1132.14,1144.63 1137.02,1146.59 1141.9,1148.51 1146.77,1150.37 1151.65,1152.19 1156.53,1153.96 1161.41,1155.69 1166.28,1157.36 1171.16,1158.99 1176.04,1160.58 1180.92,1162.11 1185.79,1163.6 1190.67,1165.05 1195.55,1166.44 1200.43,1167.8 1205.3,1169.11 1210.18,1170.37 1215.06,1171.6 1219.94,1172.78 1224.81,1173.92 1229.69,1175.02 1234.57,1176.08 1239.45,1177.1 1244.32,1178.08 1249.2,1179.03 1254.08,1179.93 1258.96,1180.81 1263.83,1181.64 1268.71,1182.45 1273.59,1183.22 1278.47,1183.96 1283.34,1184.67 1288.22,1185.34 1293.1,1185.99 1297.98,1186.61 1302.85,1187.2 1307.73,1187.77 1312.61,1188.31" fill="none" stroke="#000" stroke-width="3.6" stroke-linejoin="round" stroke-linecap="round"/>
<line x1="773.1" y1="1210.9" x2="773.1" y2="1299.9" stroke="#000" stroke-width="15.8" stroke-linecap="round"/>
<circle cx="1345.9" cy="1271.7" r="8" fill="#000" fill-opacity="0.5"/><circle cx="1345.9" cy="1271.7" r="7.2" fill="none" stroke="#000" stroke-opacity="0.5" stroke-width="1.6"/>
<circle cx="1498" cy="1260.7" r="8" fill="#000" fill-opacity="0.5"/><circle cx="1498" cy="1260.7" r="7.2" fill="none" stroke="#000" stroke-opacity="0.5" stroke-width="1.6"/>
<polygon points="468.8,1344.11 473.68,1341.61 478.56,1339.07 483.44,1336.5 488.31,1333.89 493.19,1331.25 498.07,1328.57 502.95,1325.87 507.82,1323.15 512.7,1320.39 517.58,1317.62 522.46,1314.82 527.33,1312 532.21,1309.17 537.09,1306.33 541.97,1303.47 546.84,1300.61 551.72,1297.74 556.6,1294.86 561.48,1291.99 566.35,1289.12 571.23,1286.26 576.11,1283.4 580.99,1280.56 585.86,1277.73 590.74,1274.92 595.62,1272.14 600.5,1269.38 605.37,1266.64 610.25,1263.94 615.13,1261.27 620.01,1258.64 624.88,1256.06 629.76,1253.51 634.64,1251.02 639.52,1248.57 644.39,1246.18 649.27,1243.85 654.15,1241.58 659.03,1239.37 663.9,1237.23 668.78,1235.16 673.66,1233.16 678.54,1231.24 683.41,1229.4 688.29,1227.63 693.17,1225.95 698.05,1224.36 702.92,1222.85 707.8,1221.44 712.68,1220.11 717.56,1218.88 722.43,1217.75 727.31,1216.72 732.19,1215.78 737.07,1214.94 741.94,1214.21 746.82,1213.58 751.7,1213.06 756.58,1212.63 761.45,1212.32 766.33,1212.11 771.21,1212.01 776.09,1212.01 780.96,1212.12 785.84,1212.33 790.72,1212.66 795.6,1213.08 800.47,1213.61 805.35,1214.25 810.23,1214.99 815.11,1215.83 819.98,1216.77 824.86,1217.81 829.74,1218.95 834.62,1220.18 839.49,1221.51 844.37,1222.93 849.25,1224.45 854.13,1226.04 859,1227.73 863.88,1229.5 868.76,1231.34 873.64,1233.27 878.51,1235.27 883.39,1237.35 888.27,1239.49 893.15,1241.7 898.02,1243.97 902.9,1246.31 907.78,1248.7 912.66,1251.15 917.53,1253.64 922.41,1256.19 927.29,1258.78 932.17,1261.41 937.04,1264.07 941.92,1266.78 946.8,1269.51 951.68,1272.27 956.55,1275.06 961.43,1277.87 966.31,1280.69 971.19,1283.53 976.06,1286.39 980.94,1289.25 985.82,1292.11 990.7,1294.98 995.57,1297.85 1000.45,1300.72 1005.33,1303.58 1010.2,1306.43 1015.08,1309.27 1019.96,1312.1 1024.84,1314.91 1029.71,1317.7 1034.59,1320.47 1039.47,1323.22 1044.35,1325.94 1049.22,1328.63 1054.1,1331.3 1058.98,1333.93 1063.86,1336.53 1068.73,1339.1 1073.61,1341.63 1078.49,1344.12 1083.37,1346.58 1088.24,1348.99 1093.12,1351.36 1098,1353.69 1102.88,1355.98 1107.75,1358.22 1112.63,1360.42 1117.51,1362.57 1122.39,1364.67 1127.26,1366.73 1132.14,1368.75 1137.02,1370.71 1141.9,1372.63 1146.77,1374.5 1151.65,1376.32 1156.53,1378.09 1161.41,1379.82 1166.28,1381.5 1171.16,1383.13 1176.04,1384.71 1180.92,1386.25 1185.79,1387.74 1190.67,1389.19 1195.55,1390.58 1200.43,1391.94 1205.3,1393.25 1210.18,1394.51 1215.06,1395.74 1219.94,1396.92 1224.81,1398.06 1229.69,1399.15 1234.57,1400.21 1239.45,1401.23 1244.32,1402.21 1249.2,1403.15 1254.08,1404.05 1258.96,1404.92 1263.83,1405.76 1268.71,1406.56 1273.59,1407.32 1278.47,1408.06 1283.34,1408.76 1288.22,1409.43 1293.1,1410.07 1297.98,1410.68 1302.85,1411.27 1307.73,1411.83 1307.73,1422.75 468.8,1422.75" fill="#00BA38" fill-opacity="0.5"/>
<polyline points="468.8,1344.11 473.68,1341.61 478.56,1339.07 483.44,1336.5 488.31,1333.89 493.19,1331.25 498.07,1328.57 502.95,1325.87 507.82,1323.15 512.7,1320.39 517.58,1317.62 522.46,1314.82 527.33,1312 532.21,1309.17 537.09,1306.33 541.97,1303.47 546.84,1300.61 551.72,1297.74 556.6,1294.86 561.48,1291.99 566.35,1289.12 571.23,1286.26 576.11,1283.4 580.99,1280.56 585.86,1277.73 590.74,1274.92 595.62,1272.14 600.5,1269.38 605.37,1266.64 610.25,1263.94 615.13,1261.27 620.01,1258.64 624.88,1256.06 629.76,1253.51 634.64,1251.02 639.52,1248.57 644.39,1246.18 649.27,1243.85 654.15,1241.58 659.03,1239.37 663.9,1237.23 668.78,1235.16 673.66,1233.16 678.54,1231.24 683.41,1229.4 688.29,1227.63 693.17,1225.95 698.05,1224.36 702.92,1222.85 707.8,1221.44 712.68,1220.11 717.56,1218.88 722.43,1217.75 727.31,1216.72 732.19,1215.78 737.07,1214.94 741.94,1214.21 746.82,1213.58 751.7,1213.06 756.58,1212.63 761.45,1212.32 766.33,1212.11 771.21,1212.01 776.09,1212.01 780.96,1212.12 785.84,1212.33 790.72,1212.66 795.6,1213.08 800.47,1213.61 805.35,1214.25 810.23,1214.99 815.11,1215.83 819.98,1216.77 824.86,1217.81 829.74,1218.95 834.62,1220.18 839.49,1221.51 844.37,1222.93 849.25,1224.45 854.13,1226.04 859,1227.73 863.88,1229.5 868.76,1231.34 873.64,1233.27 878.51,1235.27 883.39,1237.35 888.27,1239.49 893.15,1241.7 898.02,1243.97 902.9,1246.31 907.78,1248.7 912.66,1251.15 917.53,1253.64 922.41,1256.19 927.29,1258.78 932.17,1261.41 937.04,1264.07 941.92,1266.78 946.8,1269.51 951.68,1272.27 956.55,1275.06 961.43,1277.87 966.31,1280.69 971.19,1283.53 976.06,1286.39 980.94,1289.25 985.82,1292.11 990.7,1294.98 995.57,1297.85 1000.45,1300.72 1005.33,1303.58 1010.2,1306.43 1015.08,1309.27 1019.96,1312.1 1024.84,1314.91 1029.71,1317.7 1034.59,1320.47 1039.47,1323.22 1044.35,1325.94 1049.22,1328.63 1054.1,1331.3 1058.98,1333.93 1063.86,1336.53 1068.73,1339.1 1073.61,1341.63 1078.49,1344.12 1083.37,1346.58 1088.24,1348.99 1093.12,1351.36 1098,1353.69 1102.88,1355.98 1107.75,1358.22 1112.63,1360.42 1117.51,1362.57 1122.39,1364.67 1127.26,1366.73 1132.14,1368.75 1137.02,1370.71 1141.9,1372.63 1146.77,1374.5 1151.65,1376.32 1156.53,1378.09 1161.41,1379.82 1166.28,1381.5 1171.16,1383.13 1176.04,1384.71 1180.92,1386.25 1185.79,1387.74 1190.67,1389.19 1195.55,1390.58 1200.43,1391.94 1205.3,1393.25 1210.18,1394.51 1215.06,1395.74 1219.94,1396.92 1224.81,1398.06 1229.69,1399.15 1234.57,1400.21 1239.45,1401.23 1244.32,1402.21 1249.2,1403.15 1254.08,1404.05 1258.96,1404.92 1263.83,1405.76 1268.71,1406.56 1273.59,1407.32 1278.47,1408.06 1283.34,1408.76 1288.22,1409.43 1293.1,1410.07 1297.98,1410.68 1302.85,1411.27 1307.73,1411.83" fill="none" stroke="#000" stroke-width="3.6" stroke-linejoin="round" stroke-linecap="round"/>
<line x1="773.1" y1="1433.8" x2="773.1" y2="1524" stroke="#000" stroke-width="15.8" stroke-linecap="round"/>
<circle cx="1511.9" cy="1512.8" r="8" fill="#000" fill-opacity="0.5"/><circle cx="1511.9" cy="1512.8" r="7.2" fill="none" stroke="#000" stroke-opacity="0.5" stroke-width="1.6"/>
<circle cx="1609" cy="1489" r="8" fill="#000" fill-opacity="0.5"/><circle cx="1609" cy="1489" r="7.2" fill="none" stroke="#000" stroke-opacity="0.5" stroke-width="1.6"/>
<polygon points="468.8,1568.05 473.68,1565.55 478.56,1563.02 483.44,1560.45 488.31,1557.85 493.19,1555.22 498.07,1552.55 502.95,1549.86 507.82,1547.13 512.7,1544.39 517.58,1541.62 522.46,1538.83 527.33,1536.02 532.21,1533.19 537.09,1530.36 541.97,1527.51 546.84,1524.65 551.72,1521.79 556.6,1518.92 561.48,1516.05 566.35,1513.19 571.23,1510.33 576.11,1507.49 580.99,1504.65 585.86,1501.83 590.74,1499.03 595.62,1496.25 600.5,1493.49 605.37,1490.76 610.25,1488.07 615.13,1485.41 620.01,1482.78 624.88,1480.2 629.76,1477.66 634.64,1475.17 639.52,1472.74 644.39,1470.35 649.27,1468.03 654.15,1465.76 659.03,1463.56 663.9,1461.42 668.78,1459.35 673.66,1457.36 678.54,1455.44 683.41,1453.6 688.29,1451.84 693.17,1450.17 698.05,1448.57 702.92,1447.07 707.8,1445.66 712.68,1444.34 717.56,1443.11 722.43,1441.98 727.31,1440.94 732.19,1440.01 737.07,1439.17 741.94,1438.44 746.82,1437.81 751.7,1437.29 756.58,1436.86 761.45,1436.55 766.33,1436.34 771.21,1436.23 776.09,1436.23 780.96,1436.34 785.84,1436.55 790.72,1436.87 795.6,1437.3 800.47,1437.82 805.35,1438.46 810.23,1439.19 815.11,1440.03 819.98,1440.96 824.86,1442 829.74,1443.13 834.62,1444.36 839.49,1445.68 844.37,1447.1 849.25,1448.6 854.13,1450.19 859,1451.87 863.88,1453.63 868.76,1455.47 873.64,1457.38 878.51,1459.38 883.39,1461.44 888.27,1463.57 893.15,1465.77 898.02,1468.04 902.9,1470.36 907.78,1472.74 912.66,1475.17 917.53,1477.66 922.41,1480.19 927.29,1482.77 932.17,1485.38 937.04,1488.04 941.92,1490.73 946.8,1493.45 951.68,1496.19 956.55,1498.97 961.43,1501.76 966.31,1504.57 971.19,1507.4 976.06,1510.23 980.94,1513.08 985.82,1515.93 990.7,1518.79 995.57,1521.64 1000.45,1524.49 1005.33,1527.33 1010.2,1530.17 1015.08,1532.99 1019.96,1535.8 1024.84,1538.59 1029.71,1541.37 1034.59,1544.12 1039.47,1546.85 1044.35,1549.56 1049.22,1552.23 1054.1,1554.88 1058.98,1557.49 1063.86,1560.08 1068.73,1562.63 1073.61,1565.14 1078.49,1567.61 1083.37,1570.05 1088.24,1572.44 1093.12,1574.8 1098,1577.11 1102.88,1579.38 1107.75,1581.6 1112.63,1583.78 1117.51,1585.92 1122.39,1588.01 1127.26,1590.05 1132.14,1592.05 1137.02,1593.99 1141.9,1595.9 1146.77,1597.75 1151.65,1599.55 1156.53,1601.31 1161.41,1603.02 1166.28,1604.69 1171.16,1606.3 1176.04,1607.87 1180.92,1609.4 1185.79,1610.88 1190.67,1612.31 1195.55,1613.69 1200.43,1615.04 1205.3,1616.33 1210.18,1617.59 1215.06,1618.8 1219.94,1619.97 1224.81,1621.1 1229.69,1622.19 1234.57,1623.24 1239.45,1624.25 1244.32,1625.22 1249.2,1626.15 1254.08,1627.05 1258.96,1627.91 1263.83,1628.74 1268.71,1629.54 1273.59,1630.3 1278.47,1631.03 1283.34,1631.73 1288.22,1632.4 1293.1,1633.04 1297.98,1633.65 1302.85,1634.23 1307.73,1634.79 1312.61,1635.33 1317.49,1635.83 1317.49,1646.5 468.8,1646.5" fill="#93AA00" fill-opacity="0.5"/>
<polyline points="468.8,1568.05 473.68,1565.55 478.56,1563.02 483.44,1560.45 488.31,1557.85 493.19,1555.22 498.07,1552.55 502.95,1549.86 507.82,1547.13 512.7,1544.39 517.58,1541.62 522.46,1538.83 527.33,1536.02 532.21,1533.19 537.09,1530.36 541.97,1527.51 546.84,1524.65 551.72,1521.79 556.6,1518.92 561.48,1516.05 566.35,1513.19 571.23,1510.33 576.11,1507.49 580.99,1504.65 585.86,1501.83 590.74,1499.03 595.62,1496.25 600.5,1493.49 605.37,1490.76 610.25,1488.07 615.13,1485.41 620.01,1482.78 624.88,1480.2 629.76,1477.66 634.64,1475.17 639.52,1472.74 644.39,1470.35 649.27,1468.03 654.15,1465.76 659.03,1463.56 663.9,1461.42 668.78,1459.35 673.66,1457.36 678.54,1455.44 683.41,1453.6 688.29,1451.84 693.17,1450.17 698.05,1448.57 702.92,1447.07 707.8,1445.66 712.68,1444.34 717.56,1443.11 722.43,1441.98 727.31,1440.94 732.19,1440.01 737.07,1439.17 741.94,1438.44 746.82,1437.81 751.7,1437.29 756.58,1436.86 761.45,1436.55 766.33,1436.34 771.21,1436.23 776.09,1436.23 780.96,1436.34 785.84,1436.55 790.72,1436.87 795.6,1437.3 800.47,1437.82 805.35,1438.46 810.23,1439.19 815.11,1440.03 819.98,1440.96 824.86,1442 829.74,1443.13 834.62,1444.36 839.49,1445.68 844.37,1447.1 849.25,1448.6 854.13,1450.19 859,1451.87 863.88,1453.63 868.76,1455.47 873.64,1457.38 878.51,1459.38 883.39,1461.44 888.27,1463.57 893.15,1465.77 898.02,1468.04 902.9,1470.36 907.78,1472.74 912.66,1475.17 917.53,1477.66 922.41,1480.19 927.29,1482.77 932.17,1485.38 937.04,1488.04 941.92,1490.73 946.8,1493.45 951.68,1496.19 956.55,1498.97 961.43,1501.76 966.31,1504.57 971.19,1507.4 976.06,1510.23 980.94,1513.08 985.82,1515.93 990.7,1518.79 995.57,1521.64 1000.45,1524.49 1005.33,1527.33 1010.2,1530.17 1015.08,1532.99 1019.96,1535.8 1024.84,1538.59 1029.71,1541.37 1034.59,1544.12 1039.47,1546.85 1044.35,1549.56 1049.22,1552.23 1054.1,1554.88 1058.98,1557.49 1063.86,1560.08 1068.73,1562.63 1073.61,1565.14 1078.49,1567.61 1083.37,1570.05 1088.24,1572.44 1093.12,1574.8 1098,1577.11 1102.88,1579.38 1107.75,1581.6 1112.63,1583.78 1117.51,1585.92 1122.39,1588.01 1127.26,1590.05 1132.14,1592.05 1137.02,1593.99 1141.9,1595.9 1146.77,1597.75 1151.65,1599.55 1156.53,1601.31 1161.41,1603.02 1166.28,1604.69 1171.16,1606.3 1176.04,1607.87 1180.92,1609.4 1185.79,1610.88 1190.67,1612.31 1195.55,1613.69 1200.43,1615.04 1205.3,1616.33 1210.18,1617.59 1215.06,1618.8 1219.94,1619.97 1224.81,1621.1 1229.69,1622.19 1234.57,1623.24 1239.45,1624.25 1244.32,1625.22 1249.2,1626.15 1254.08,1627.05 1258.96,1627.91 1263.83,1628.74 1268.71,1629.54 1273.59,1630.3 1278.47,1631.03 1283.34,1631.73 1288.22,1632.4 1293.1,1633.04 1297.98,1633.65 1302.85,1634.23 1307.73,1634.79 1312.61,1635.33 1317.49,1635.83" fill="none" stroke="#000" stroke-width="3.6" stroke-linejoin="round" stroke-linecap="round"/>
<line x1="773.1" y1="1658.1" x2="773.1" y2="1746.7" stroke="#000" stroke-width="15.8" stroke-linecap="round"/>
<circle cx="1311" cy="1668" r="8" fill="#000" fill-opacity="0.5"/><circle cx="1311" cy="1668" r="7.2" fill="none" stroke="#000" stroke-opacity="0.5" stroke-width="1.6"/>
<circle cx="1339" cy="1726.9" r="8" fill="#000" fill-opacity="0.5"/><circle cx="1339" cy="1726.9" r="7.2" fill="none" stroke="#000" stroke-opacity="0.5" stroke-width="1.6"/>
<circle cx="1386" cy="1733" r="8" fill="#000" fill-opacity="0.5"/><circle cx="1386" cy="1733" r="7.2" fill="none" stroke="#000" stroke-opacity="0.5" stroke-width="1.6"/>
<circle cx="1431" cy="1718.8" r="8" fill="#000" fill-opacity="0.5"/><circle cx="1431" cy="1718.8" r="7.2" fill="none" stroke="#000" stroke-opacity="0.5" stroke-width="1.6"/>
<circle cx="1473.6" cy="1733.9" r="8" fill="#000" fill-opacity="0.5"/><circle cx="1473.6" cy="1733.9" r="7.2" fill="none" stroke="#000" stroke-opacity="0.5" stroke-width="1.6"/>
<circle cx="1483.2" cy="1730.9" r="8" fill="#000" fill-opacity="0.5"/><circle cx="1483.2" cy="1730.9" r="7.2" fill="none" stroke="#000" stroke-opacity="0.5" stroke-width="1.6"/>
<circle cx="1648.1" cy="1704.8" r="8" fill="#000" fill-opacity="0.5"/><circle cx="1648.1" cy="1704.8" r="7.2" fill="none" stroke="#000" stroke-opacity="0.5" stroke-width="1.6"/>
<polygon points="468.8,1791.4 473.68,1788.89 478.56,1786.34 483.44,1783.76 488.31,1781.15 493.19,1778.5 498.07,1775.82 502.95,1773.11 507.82,1770.38 512.7,1767.62 517.58,1764.83 522.46,1762.03 527.33,1759.2 532.21,1756.36 537.09,1753.51 541.97,1750.65 546.84,1747.78 551.72,1744.9 556.6,1742.02 561.48,1739.14 566.35,1736.26 571.23,1733.39 576.11,1730.52 580.99,1727.67 585.86,1724.84 590.74,1722.02 595.62,1719.23 600.5,1716.46 605.37,1713.72 610.25,1711.01 615.13,1708.33 620.01,1705.7 624.88,1703.1 629.76,1700.55 634.64,1698.05 639.52,1695.6 644.39,1693.2 649.27,1690.86 654.15,1688.58 659.03,1686.37 663.9,1684.22 668.78,1682.14 673.66,1680.14 678.54,1678.21 683.41,1676.36 688.29,1674.59 693.17,1672.91 698.05,1671.31 702.92,1669.8 707.8,1668.37 712.68,1667.05 717.56,1665.81 722.43,1664.67 727.31,1663.64 732.19,1662.7 737.07,1661.86 741.94,1661.12 746.82,1660.49 751.7,1659.96 756.58,1659.53 761.45,1659.21 766.33,1659 771.21,1658.9 776.09,1658.9 780.96,1659 785.84,1659.22 790.72,1659.54 795.6,1659.96 800.47,1660.49 805.35,1661.13 810.23,1661.86 815.11,1662.7 819.98,1663.64 824.86,1664.68 829.74,1665.82 834.62,1667.06 839.49,1668.38 844.37,1669.81 849.25,1671.32 854.13,1672.92 859,1674.6 863.88,1676.37 868.76,1678.22 873.64,1680.14 878.51,1682.14 883.39,1684.22 888.27,1686.36 893.15,1688.57 898.02,1690.85 902.9,1693.18 907.78,1695.58 912.66,1698.02 917.53,1700.52 922.41,1703.06 927.29,1705.65 932.17,1708.28 937.04,1710.95 941.92,1713.66 946.8,1716.39 951.68,1719.15 956.55,1721.94 961.43,1724.75 966.31,1727.57 971.19,1730.42 976.06,1733.27 980.94,1736.13 985.82,1739 990.7,1741.87 995.57,1744.74 1000.45,1747.61 1005.33,1750.47 1010.2,1753.32 1015.08,1756.16 1019.96,1758.99 1024.84,1761.8 1029.71,1764.59 1034.59,1767.36 1039.47,1770.11 1044.35,1772.83 1049.22,1775.52 1054.1,1778.19 1058.98,1780.82 1063.86,1783.42 1068.73,1785.99 1073.61,1788.52 1078.49,1791.02 1083.37,1793.47 1088.24,1795.88 1093.12,1798.26 1098,1800.59 1102.88,1802.88 1107.75,1805.12 1112.63,1807.32 1117.51,1809.48 1122.39,1811.58 1127.26,1813.65 1132.14,1815.66 1137.02,1817.63 1141.9,1819.55 1146.77,1821.42 1151.65,1823.25 1156.53,1825.03 1161.41,1826.76 1166.28,1828.44 1171.16,1830.08 1176.04,1831.67 1180.92,1833.22 1185.79,1834.71 1190.67,1836.17 1195.55,1837.57 1200.43,1838.94 1205.3,1840.26 1210.18,1841.53 1215.06,1842.77 1219.94,1843.96 1224.81,1845.11 1229.69,1846.22 1234.57,1847.29 1239.45,1848.32 1244.32,1849.31 1249.2,1850.27 1254.08,1851.18 1258.96,1852.07 1263.83,1852.92 1268.71,1853.73 1273.59,1854.52 1278.47,1855.27 1283.34,1855.99 1288.22,1856.68 1293.1,1857.34 1297.98,1857.97 1302.85,1858.58 1307.73,1859.15 1307.73,1870.25 468.8,1870.25" fill="#D39200" fill-opacity="0.5"/>
<polyline points="468.8,1791.4 473.68,1788.89 478.56,1786.34 483.44,1783.76 488.31,1781.15 493.19,1778.5 498.07,1775.82 502.95,1773.11 507.82,1770.38 512.7,1767.62 517.58,1764.83 522.46,1762.03 527.33,1759.2 532.21,1756.36 537.09,1753.51 541.97,1750.65 546.84,1747.78 551.72,1744.9 556.6,1742.02 561.48,1739.14 566.35,1736.26 571.23,1733.39 576.11,1730.52 580.99,1727.67 585.86,1724.84 590.74,1722.02 595.62,1719.23 600.5,1716.46 605.37,1713.72 610.25,1711.01 615.13,1708.33 620.01,1705.7 624.88,1703.1 629.76,1700.55 634.64,1698.05 639.52,1695.6 644.39,1693.2 649.27,1690.86 654.15,1688.58 659.03,1686.37 663.9,1684.22 668.78,1682.14 673.66,1680.14 678.54,1678.21 683.41,1676.36 688.29,1674.59 693.17,1672.91 698.05,1671.31 702.92,1669.8 707.8,1668.37 712.68,1667.05 717.56,1665.81 722.43,1664.67 727.31,1663.64 732.19,1662.7 737.07,1661.86 741.94,1661.12 746.82,1660.49 751.7,1659.96 756.58,1659.53 761.45,1659.21 766.33,1659 771.21,1658.9 776.09,1658.9 780.96,1659 785.84,1659.22 790.72,1659.54 795.6,1659.96 800.47,1660.49 805.35,1661.13 810.23,1661.86 815.11,1662.7 819.98,1663.64 824.86,1664.68 829.74,1665.82 834.62,1667.06 839.49,1668.38 844.37,1669.81 849.25,1671.32 854.13,1672.92 859,1674.6 863.88,1676.37 868.76,1678.22 873.64,1680.14 878.51,1682.14 883.39,1684.22 888.27,1686.36 893.15,1688.57 898.02,1690.85 902.9,1693.18 907.78,1695.58 912.66,1698.02 917.53,1700.52 922.41,1703.06 927.29,1705.65 932.17,1708.28 937.04,1710.95 941.92,1713.66 946.8,1716.39 951.68,1719.15 956.55,1721.94 961.43,1724.75 966.31,1727.57 971.19,1730.42 976.06,1733.27 980.94,1736.13 985.82,1739 990.7,1741.87 995.57,1744.74 1000.45,1747.61 1005.33,1750.47 1010.2,1753.32 1015.08,1756.16 1019.96,1758.99 1024.84,1761.8 1029.71,1764.59 1034.59,1767.36 1039.47,1770.11 1044.35,1772.83 1049.22,1775.52 1054.1,1778.19 1058.98,1780.82 1063.86,1783.42 1068.73,1785.99 1073.61,1788.52 1078.49,1791.02 1083.37,1793.47 1088.24,1795.88 1093.12,1798.26 1098,1800.59 1102.88,1802.88 1107.75,1805.12 1112.63,1807.32 1117.51,1809.48 1122.39,1811.58 1127.26,1813.65 1132.14,1815.66 1137.02,1817.63 1141.9,1819.55 1146.77,1821.42 1151.65,1823.25 1156.53,1825.03 1161.41,1826.76 1166.28,1828.44 1171.16,1830.08 1176.04,1831.67 1180.92,1833.22 1185.79,1834.71 1190.67,1836.17 1195.55,1837.57 1200.43,1838.94 1205.3,1840.26 1210.18,1841.53 1215.06,1842.77 1219.94,1843.96 1224.81,1845.11 1229.69,1846.22 1234.57,1847.29 1239.45,1848.32 1244.32,1849.31 1249.2,1850.27 1254.08,1851.18 1258.96,1852.07 1263.83,1852.92 1268.71,1853.73 1273.59,1854.52 1278.47,1855.27 1283.34,1855.99 1288.22,1856.68 1293.1,1857.34 1297.98,1857.97 1302.85,1858.58 1307.73,1859.15" fill="none" stroke="#000" stroke-width="3.6" stroke-linejoin="round" stroke-linecap="round"/>
<line x1="773.1" y1="1882.1" x2="773.1" y2="1970.7" stroke="#000" stroke-width="15.8" stroke-linecap="round"/>
<circle cx="1299.1" cy="1900.9" r="8" fill="#000" fill-opacity="0.5"/><circle cx="1299.1" cy="1900.9" r="7.2" fill="none" stroke="#000" stroke-opacity="0.5" stroke-width="1.6"/>
<polygon points="468.8,2014.81 473.68,2012.3 478.56,2009.74 483.44,2007.15 488.31,2004.52 493.19,2001.86 498.07,1999.17 502.95,1996.45 507.82,1993.71 512.7,1990.93 517.58,1988.14 522.46,1985.32 527.33,1982.49 532.21,1979.64 537.09,1976.77 541.97,1973.9 546.84,1971.01 551.72,1968.12 556.6,1965.23 561.48,1962.34 566.35,1959.45 571.23,1956.56 576.11,1953.69 580.99,1950.83 585.86,1947.98 590.74,1945.15 595.62,1942.35 600.5,1939.56 605.37,1936.81 610.25,1934.09 615.13,1931.4 620.01,1928.76 624.88,1926.15 629.76,1923.59 634.64,1921.08 639.52,1918.62 644.39,1916.21 649.27,1913.86 654.15,1911.58 659.03,1909.35 663.9,1907.2 668.78,1905.11 673.66,1903.1 678.54,1901.17 683.41,1899.31 688.29,1897.53 693.17,1895.84 698.05,1894.24 702.92,1892.72 707.8,1891.29 712.68,1889.96 717.56,1888.72 722.43,1887.58 727.31,1886.54 732.19,1885.6 737.07,1884.76 741.94,1884.02 746.82,1883.39 751.7,1882.86 756.58,1882.43 761.45,1882.11 766.33,1881.9 771.21,1881.8 776.09,1881.8 780.96,1881.91 785.84,1882.13 790.72,1882.46 795.6,1882.89 800.47,1883.42 805.35,1884.06 810.23,1884.81 815.11,1885.65 819.98,1886.6 824.86,1887.65 829.74,1888.8 834.62,1890.04 839.49,1891.38 844.37,1892.81 849.25,1894.33 854.13,1895.94 859,1897.64 863.88,1899.42 868.76,1901.28 873.64,1903.22 878.51,1905.24 883.39,1907.33 888.27,1909.49 893.15,1911.71 898.02,1914 902.9,1916.35 907.78,1918.76 912.66,1921.23 917.53,1923.74 922.41,1926.31 927.29,1928.92 932.17,1931.57 937.04,1934.25 941.92,1936.98 946.8,1939.73 951.68,1942.51 956.55,1945.32 961.43,1948.15 966.31,1951 971.19,1953.86 976.06,1956.74 980.94,1959.62 985.82,1962.51 990.7,1965.4 995.57,1968.3 1000.45,1971.19 1005.33,1974.07 1010.2,1976.94 1015.08,1979.81 1019.96,1982.66 1024.84,1985.49 1029.71,1988.31 1034.59,1991.1 1039.47,1993.87 1044.35,1996.62 1049.22,1999.34 1054.1,2002.02 1058.98,2004.68 1063.86,2007.31 1068.73,2009.9 1073.61,2012.45 1078.49,2014.97 1083.37,2017.44 1088.24,2019.88 1093.12,2022.28 1098,2024.63 1102.88,2026.94 1107.75,2029.2 1112.63,2031.42 1117.51,2033.6 1122.39,2035.73 1127.26,2037.81 1132.14,2039.85 1137.02,2041.83 1141.9,2043.78 1146.77,2045.67 1151.65,2047.51 1156.53,2049.31 1161.41,2051.06 1166.28,2052.76 1171.16,2054.41 1176.04,2056.02 1180.92,2057.58 1185.79,2059.1 1190.67,2060.56 1195.55,2061.99 1200.43,2063.36 1205.3,2064.7 1210.18,2065.98 1215.06,2067.23 1219.94,2068.43 1224.81,2069.59 1229.69,2070.72 1234.57,2071.8 1239.45,2072.84 1244.32,2073.84 1249.2,2074.8 1254.08,2075.73 1258.96,2076.62 1263.83,2077.48 1268.71,2078.3 1273.59,2079.09 1278.47,2079.85 1283.34,2080.57 1288.22,2081.26 1293.1,2081.93 1297.98,2082.56 1302.85,2083.17 1302.85,2094 468.8,2094" fill="#F8766D" fill-opacity="0.5"/>
<polyline points="468.8,2014.81 473.68,2012.3 478.56,2009.74 483.44,2007.15 488.31,2004.52 493.19,2001.86 498.07,1999.17 502.95,1996.45 507.82,1993.71 512.7,1990.93 517.58,1988.14 522.46,1985.32 527.33,1982.49 532.21,1979.64 537.09,1976.77 541.97,1973.9 546.84,1971.01 551.72,1968.12 556.6,1965.23 561.48,1962.34 566.35,1959.45 571.23,1956.56 576.11,1953.69 580.99,1950.83 585.86,1947.98 590.74,1945.15 595.62,1942.35 600.5,1939.56 605.37,1936.81 610.25,1934.09 615.13,1931.4 620.01,1928.76 624.88,1926.15 629.76,1923.59 634.64,1921.08 639.52,1918.62 644.39,1916.21 649.27,1913.86 654.15,1911.58 659.03,1909.35 663.9,1907.2 668.78,1905.11 673.66,1903.1 678.54,1901.17 683.41,1899.31 688.29,1897.53 693.17,1895.84 698.05,1894.24 702.92,1892.72 707.8,1891.29 712.68,1889.96 717.56,1888.72 722.43,1887.58 727.31,1886.54 732.19,1885.6 737.07,1884.76 741.94,1884.02 746.82,1883.39 751.7,1882.86 756.58,1882.43 761.45,1882.11 766.33,1881.9 771.21,1881.8 776.09,1881.8 780.96,1881.91 785.84,1882.13 790.72,1882.46 795.6,1882.89 800.47,1883.42 805.35,1884.06 810.23,1884.81 815.11,1885.65 819.98,1886.6 824.86,1887.65 829.74,1888.8 834.62,1890.04 839.49,1891.38 844.37,1892.81 849.25,1894.33 854.13,1895.94 859,1897.64 863.88,1899.42 868.76,1901.28 873.64,1903.22 878.51,1905.24 883.39,1907.33 888.27,1909.49 893.15,1911.71 898.02,1914 902.9,1916.35 907.78,1918.76 912.66,1921.23 917.53,1923.74 922.41,1926.31 927.29,1928.92 932.17,1931.57 937.04,1934.25 941.92,1936.98 946.8,1939.73 951.68,1942.51 956.55,1945.32 961.43,1948.15 966.31,1951 971.19,1953.86 976.06,1956.74 980.94,1959.62 985.82,1962.51 990.7,1965.4 995.57,1968.3 1000.45,1971.19 1005.33,1974.07 1010.2,1976.94 1015.08,1979.81 1019.96,1982.66 1024.84,1985.49 1029.71,1988.31 1034.59,1991.1 1039.47,1993.87 1044.35,1996.62 1049.22,1999.34 1054.1,2002.02 1058.98,2004.68 1063.86,2007.31 1068.73,2009.9 1073.61,2012.45 1078.49,2014.97 1083.37,2017.44 1088.24,2019.88 1093.12,2022.28 1098,2024.63 1102.88,2026.94 1107.75,2029.2 1112.63,2031.42 1117.51,2033.6 1122.39,2035.73 1127.26,2037.81 1132.14,2039.85 1137.02,2041.83 1141.9,2043.78 1146.77,2045.67 1151.65,2047.51 1156.53,2049.31 1161.41,2051.06 1166.28,2052.76 1171.16,2054.41 1176.04,2056.02 1180.92,2057.58 1185.79,2059.1 1190.67,2060.56 1195.55,2061.99 1200.43,2063.36 1205.3,2064.7 1210.18,2065.98 1215.06,2067.23 1219.94,2068.43 1224.81,2069.59 1229.69,2070.72 1234.57,2071.8 1239.45,2072.84 1244.32,2073.84 1249.2,2074.8 1254.08,2075.73 1258.96,2076.62 1263.83,2077.48 1268.71,2078.3 1273.59,2079.09 1278.47,2079.85 1283.34,2080.57 1288.22,2081.26 1293.1,2081.93 1297.98,2082.56 1302.85,2083.17" fill="none" stroke="#000" stroke-width="3.6" stroke-linejoin="round" stroke-linecap="round"/>
<line x1="773.1" y1="2105.9" x2="773.1" y2="2194.4" stroke="#000" stroke-width="15.8" stroke-linecap="round"/>
</g>
<line x1="477" y1="97" x2="477" y2="2231" stroke="#000" stroke-width="4"/>
<line x1="475" y1="2229" x2="2339" y2="2229" stroke="#000" stroke-width="4"/>
<line x1="562" y1="2229" x2="562" y2="2240" stroke="#333" stroke-width="3.7"/>
<text x="562" y="2277.6" text-anchor="middle" font-family="Liberation Sans, Arial, sans-serif" font-size="36.67" fill="#4D4D4D">-8</text>
<line x1="985" y1="2229" x2="985" y2="2240" stroke="#333" stroke-width="3.7"/>
<text x="985" y="2277.6" text-anchor="middle" font-family="Liberation Sans, Arial, sans-serif" font-size="36.67" fill="#4D4D4D">-6</text>
<line x1="1408" y1="2229" x2="1408" y2="2240" stroke="#333" stroke-width="3.7"/>
<text x="1408" y="2277.6" text-anchor="middle" font-family="Liberation Sans, Arial, sans-serif" font-size="36.67" fill="#4D4D4D">-4</text>
<line x1="1831" y1="2229" x2="1831" y2="2240" stroke="#333" stroke-width="3.7"/>
<text x="1831" y="2277.6" text-anchor="middle" font-family="Liberation Sans, Arial, sans-serif" font-size="36.67" fill="#4D4D4D">-2</text>
<line x1="2254" y1="2229" x2="2254" y2="2240" stroke="#333" stroke-width="3.7"/>
<text x="2254" y="2277.6" text-anchor="middle" font-family="Liberation Sans, Arial, sans-serif" font-size="36.67" fill="#4D4D4D">0</text>
<line x1="466" y1="304" x2="477" y2="304" stroke="#333" stroke-width="3.7"/>
<text id="y0" x="43" y="319.9" textLength="413.88" lengthAdjust="spacing" font-family="Liberation Sans, Arial, sans-serif" font-weight="bold" font-size="41.67" fill="#4D4D4D">Newborn_[n=768].txt</text>
<line x1="466" y1="527.75" x2="477" y2="527.75" stroke="#333" stroke-width="3.7"/>
<text id="y1" x="85.8" y="543.7" textLength="370.43" lengthAdjust="spacing" font-family="Liberation Sans, Arial, sans-serif" font-weight="bold" font-size="41.67" fill="#4D4D4D">71-to-80_[n=60].txt</text>
<line x1="466" y1="751.5" x2="477" y2="751.5" stroke="#333" stroke-width="3.7"/>
<text id="y2" x="62.6" y="767.5" textLength="393.81" lengthAdjust="spacing" font-family="Liberation Sans, Arial, sans-serif" font-weight="bold" font-size="41.67" fill="#4D4D4D">61-to-70_[n=359].txt</text>
<line x1="466" y1="975.25" x2="477" y2="975.25" stroke="#333" stroke-width="3.7"/>
<text id="y3" x="62.5" y="991.2" textLength="393.91" lengthAdjust="spacing" font-family="Liberation Sans, Arial, sans-serif" font-weight="bold" font-size="41.67" fill="#4D4D4D">51-to-60_[n=433].txt</text>
<line x1="466" y1="1199" x2="477" y2="1199" stroke="#333" stroke-width="3.7"/>
<text id="y4" x="63" y="1215.8" textLength="393.41" lengthAdjust="spacing" font-family="Liberation Sans, Arial, sans-serif" font-weight="bold" font-size="41.67" fill="#4D4D4D">41-to-50_[n=339].txt</text>
<line x1="466" y1="1422.75" x2="477" y2="1422.75" stroke="#333" stroke-width="3.7"/>
<text id="y5" x="63.5" y="1438.35" textLength="392.91" lengthAdjust="spacing" font-family="Liberation Sans, Arial, sans-serif" font-weight="bold" font-size="41.67" fill="#4D4D4D">31-to-40_[n=291].txt</text>
<line x1="466" y1="1646.5" x2="477" y2="1646.5" stroke="#333" stroke-width="3.7"/>
<text id="y6" x="63.1" y="1662.9" textLength="393.31" lengthAdjust="spacing" font-family="Liberation Sans, Arial, sans-serif" font-weight="bold" font-size="41.67" fill="#4D4D4D">21-to-30_[n=756].txt</text>
<line x1="466" y1="1870.25" x2="477" y2="1870.25" stroke="#333" stroke-width="3.7"/>
<text id="y7" x="86.3" y="1886.75" textLength="369.93" lengthAdjust="spacing" font-family="Liberation Sans, Arial, sans-serif" font-weight="bold" font-size="41.67" fill="#4D4D4D">2-to-10_[n=238].txt</text>
<line x1="466" y1="2094" x2="477" y2="2094" stroke="#333" stroke-width="3.7"/>
<text id="y8" x="63.05" y="2110.8" textLength="393.06" lengthAdjust="spacing" font-family="Liberation Sans, Arial, sans-serif" font-weight="bold" font-size="41.67" fill="#4D4D4D">11-to-20_[n=196].txt</text>
<text id="t0" x="475.9" y="63.6" textLength="517.12" lengthAdjust="spacing" font-family="Liberation Sans, Arial, sans-serif" font-size="55" fill="#000">Micrococcus [Genus]</text>
<text id="t1" x="1120.9" y="2331.3" textLength="574.16" lengthAdjust="spacing" font-family="Liberation Sans, Arial, sans-serif" font-size="45.83" fill="#000">log10 (Relative Abundance)</text>
</svg>
</body></html>
